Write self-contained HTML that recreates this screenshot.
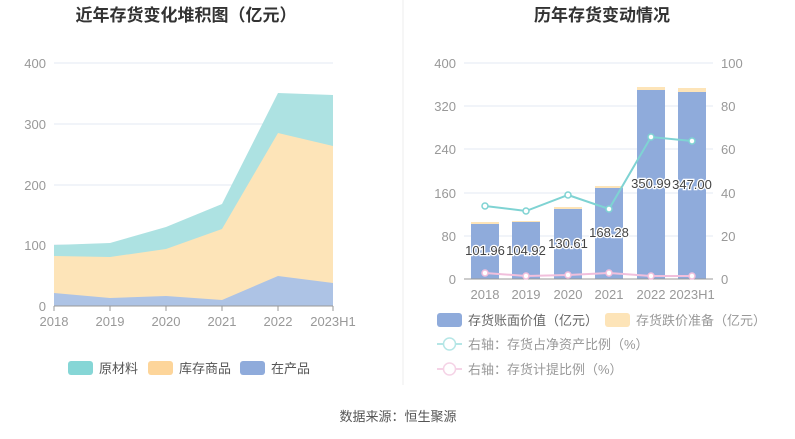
<!DOCTYPE html>
<html><head><meta charset="utf-8"><style>
body{margin:0;background:#fff;}
svg{display:block;font-family:"Liberation Sans","Noto Sans CJK SC",sans-serif;}
</style></head><body>
<svg width="795" height="439" viewBox="0 0 795 439">
<text x="186" y="21" text-anchor="middle" font-size="17" font-weight="bold" fill="#333">近年存货变化堆积图（亿元）</text>
<text x="602" y="21" text-anchor="middle" font-size="17" font-weight="bold" fill="#333">历年存货变动情况</text>
<line x1="403" y1="0" x2="403" y2="385" stroke="#eee"/>
<!-- left chart -->
<g stroke="#e3e8f3">
<line x1="54" y1="63" x2="333" y2="63"/><line x1="54" y1="124" x2="333" y2="124"/>
<line x1="54" y1="185" x2="333" y2="185"/><line x1="54" y1="245" x2="333" y2="245"/>
</g>
<g font-size="13" fill="#999" text-anchor="end">
<text x="46" y="68">400</text><text x="46" y="129">300</text><text x="46" y="190">200</text><text x="46" y="250">100</text><text x="46" y="311">0</text>
</g>
<polygon fill="#ade2e2" points="54,245 110,243 166,227 222,204 278,93 333,95 333,306 54,306"/>
<polygon fill="#fde4b8" points="54,256 110,257 166,249 222,229 278,133 333,146 333,306 54,306"/>
<polygon fill="#adc3e5" points="54,293 110,298 166,296 222,300 278,276 333,283 333,306 54,306"/>
<line x1="54" y1="306" x2="333" y2="306" stroke="#999"/>
<g stroke="#999"><line x1="54" y1="306" x2="54" y2="311"/><line x1="110" y1="306" x2="110" y2="311"/><line x1="166" y1="306" x2="166" y2="311"/><line x1="222" y1="306" x2="222" y2="311"/><line x1="278" y1="306" x2="278" y2="311"/><line x1="333" y1="306" x2="333" y2="311"/></g>
<g font-size="13" fill="#999" text-anchor="middle">
<text x="54" y="326">2018</text><text x="110" y="326">2019</text><text x="166" y="326">2020</text><text x="222" y="326">2021</text><text x="278" y="326">2022</text><text x="333" y="326">2023H1</text>
</g>
<g font-size="13" fill="#555">
<rect x="68" y="361" width="25" height="14" rx="3" fill="#86d6d6"/><text x="99" y="373">原材料</text>
<rect x="148" y="361" width="25" height="14" rx="3" fill="#fdd59a"/><text x="179" y="373">库存商品</text>
<rect x="240" y="361" width="25" height="14" rx="3" fill="#8fabdb"/><text x="271" y="373">在产品</text>
</g>
<!-- right chart -->
<g stroke="#e3e8f3">
<line x1="464" y1="63" x2="713" y2="63"/><line x1="464" y1="106" x2="713" y2="106"/><line x1="464" y1="149" x2="713" y2="149"/><line x1="464" y1="193" x2="713" y2="193"/><line x1="464" y1="236" x2="713" y2="236"/>
</g>
<g font-size="13" fill="#999" text-anchor="end">
<text x="456" y="68">400</text><text x="456" y="111">320</text><text x="456" y="154">240</text><text x="456" y="198">160</text><text x="456" y="241">80</text><text x="456" y="284">0</text>
</g>
<g font-size="13" fill="#999">
<text x="721" y="68">100</text><text x="721" y="111">80</text><text x="721" y="154">60</text><text x="721" y="198">40</text><text x="721" y="241">20</text><text x="721" y="284">0</text>
</g>
<g fill="#fde4b8">
<rect x="471" y="222" width="28" height="3"/><rect x="512" y="221" width="28" height="3"/><rect x="554" y="207" width="28" height="3"/><rect x="595" y="186" width="28" height="3"/><rect x="637" y="87" width="28" height="3"/><rect x="678" y="88" width="28" height="4"/>
</g>
<g fill="#8fabdb">
<rect x="471" y="224" width="28" height="55"/><rect x="512" y="222" width="28" height="57"/><rect x="554" y="209" width="28" height="70"/><rect x="595" y="188" width="28" height="91"/><rect x="637" y="90" width="28" height="189"/><rect x="678" y="92" width="28" height="187"/>
</g>
<line x1="464" y1="279" x2="713" y2="279" stroke="#999"/>
<polyline fill="none" stroke="#7fd3d3" stroke-width="2" points="485,206 526,211 568,195 609,209 651,137 692,141"/>
<g fill="#fff" stroke="#7fd3d3" stroke-width="1.5">
<circle cx="485" cy="206" r="3"/><circle cx="526" cy="211" r="3"/><circle cx="568" cy="195" r="3"/><circle cx="609" cy="209" r="3"/><circle cx="651" cy="137" r="3"/><circle cx="692" cy="141" r="3"/>
</g>
<polyline fill="none" stroke="#f1bfdc" stroke-width="2" points="485,273 526,276 568,275 609,273 651,276 692,276"/>
<g fill="#fff" stroke="#f1bfdc" stroke-width="1.5">
<circle cx="485" cy="273" r="3"/><circle cx="526" cy="276" r="3"/><circle cx="568" cy="275" r="3"/><circle cx="609" cy="273" r="3"/><circle cx="651" cy="276" r="3"/><circle cx="692" cy="276" r="3"/>
</g>
<g font-size="13" fill="#444" text-anchor="middle" stroke="#fff" stroke-width="2.5" paint-order="stroke">
<text x="485" y="255">101.96</text><text x="526" y="255">104.92</text><text x="568" y="248">130.61</text><text x="609" y="237">168.28</text><text x="651" y="188">350.99</text><text x="692" y="189">347.00</text>
</g>
<g font-size="13" fill="#999" text-anchor="middle">
<text x="485" y="299">2018</text><text x="526" y="299">2019</text><text x="568" y="299">2020</text><text x="609" y="299">2021</text><text x="651" y="299">2022</text><text x="692" y="299">2023H1</text>
</g>
<g font-size="13" fill="#666">
<rect x="437" y="313" width="25" height="14" rx="3" fill="#8fabdb"/><text x="468" y="325">存货账面价值（亿元）</text>
<rect x="605" y="313" width="25" height="14" rx="3" fill="#fde4b8"/><text x="636" y="325" fill="#999">存货跌价准备（亿元）</text>
<line x1="437" y1="344" x2="462" y2="344" stroke="#b5e6e6" stroke-width="2"/><circle cx="449.5" cy="344" r="6" fill="#fff" stroke="#b5e6e6" stroke-width="1.5"/><text x="468" y="349" fill="#999">右轴：存货占净资产比例（%）</text>
<line x1="437" y1="369" x2="462" y2="369" stroke="#f5d3e6" stroke-width="2"/><circle cx="449.5" cy="369" r="6" fill="#fff" stroke="#f5d3e6" stroke-width="1.5"/><text x="468" y="374" fill="#999">右轴：存货计提比例（%）</text>
</g>
<text x="398" y="421" text-anchor="middle" font-size="13" fill="#555">数据来源：恒生聚源</text>
</svg>
</body></html>
